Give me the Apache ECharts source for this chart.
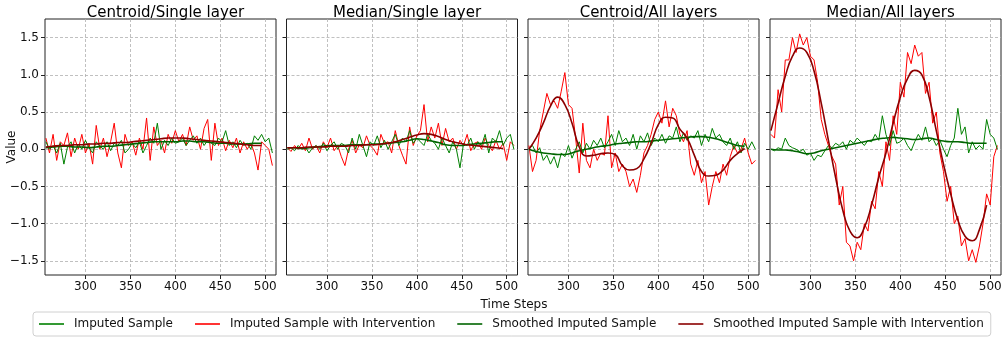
<!DOCTYPE html>
<html>
<head>
<meta charset="utf-8">
<script src="https://cdn.jsdelivr.net/npm/echarts@6/dist/echarts.min.js"></script>
<style>
    html, body { margin: 0; padding: 0; background: #fff; }
    #chart { width: 1002px; height: 339px; }
</style>
</head>
<body>
<div id="chart"></div>
<script>
    // time steps: raw samples every 4 steps, smoothed curve every 8 steps
    var noisySteps = [];
    for (var t = 256; t <= 508; t += 4) noisySteps.push(t);
    var smoothSteps = [];
    for (t = 256; t <= 496; t += 8) smoothSteps.push(t);

    var xTicks = [300, 350, 400, 450, 500];
    var yTicks = [-1.5, -1.0, -0.5, 0.0, 0.5, 1.0, 1.5];

    var panelTitles = ['Centroid/Single layer', 'Median/Single layer', 'Centroid/All layers', 'Median/All layers'];
    var legendNames = ['Imputed Sample', 'Imputed Sample with Intervention', 'Smoothed Imputed Sample', 'Smoothed Imputed Sample with Intervention'];

    // Centroid / Single layer
    var centroidSingleRaw = [
        0.1, 0.0, 0.05, -0.05, 0.08, -0.2, 0.03, 0.1,
        -0.05, 0.07, 0.0, 0.12, 0.02, -0.05, 0.1, 0.04,
        0.0, 0.1, -0.02, 0.08, 0.05, 0.12, -0.05, 0.0,
        0.08, 0.02, 0.1, -0.05, 0.05, 0.15, 0.08, 0.35,
        0.0, 0.12, 0.05, 0.15, 0.08, 0.1, 0.15, 0.05,
        0.12, 0.18, 0.08, 0.15, 0.05, 0.12, 0.08, 0.05,
        0.15, 0.1, 0.25, 0.05, 0.1, 0.02, 0.12, 0.05,
        0.08, 0.0, 0.18, 0.12, 0.2, 0.1, 0.15, -0.05
    ];
    var centroidSingleInt = [
        0.15, -0.05, 0.2, -0.15, 0.1, 0.05, 0.22, -0.1,
        0.15, 0.0, 0.2, -0.05, 0.08, -0.2, 0.32, 0.0,
        0.15, -0.1, 0.1, 0.35, -0.05, -0.25, 0.2, 0.05,
        0.1, -0.08, 0.15, 0.0, 0.42, -0.15, 0.3, 0.05,
        0.12, -0.05, 0.2, 0.08, 0.25, 0.1, 0.2, 0.05,
        0.3, 0.12, 0.18, 0.0, 0.28, 0.4, -0.15, 0.35,
        0.05, 0.15, -0.02, 0.12, 0.02, 0.15, -0.05, 0.1,
        0.0, 0.08, -0.05, -0.28, 0.1, 0.05, 0.0, -0.22
    ];
    var centroidSingleSmooth = [
        0.02, 0.03, 0.04, 0.04, 0.03, 0.03, 0.02, 0.03,
        0.04, 0.04, 0.05, 0.06, 0.07, 0.08, 0.09, 0.1,
        0.1, 0.1, 0.1, 0.11, 0.11, 0.1, 0.1, 0.09,
        0.08, 0.08, 0.07, 0.07, 0.07, 0.08, 0.08
    ];
    var centroidSingleSmoothInt = [
        0.03, 0.04, 0.05, 0.05, 0.06, 0.06, 0.07, 0.07,
        0.08, 0.08, 0.09, 0.09, 0.1, 0.11, 0.12, 0.13,
        0.14, 0.15, 0.15, 0.15, 0.14, 0.13, 0.12, 0.11,
        0.1, 0.09, 0.08, 0.07, 0.06, 0.05, 0.05
    ];

    // Median / Single layer
    var medianSingleRaw = [
        0.0, 0.02, -0.02, 0.05, 0.0, 0.03, -0.05, 0.02,
        0.05, 0.0, 0.08, -0.02, 0.05, 0.1, 0.0, 0.08,
        0.05, -0.05, 0.15, 0.0, 0.2, 0.05, -0.1, 0.1,
        0.05, 0.18, 0.02, 0.12, 0.0, 0.1, 0.2, 0.05,
        0.15, 0.1, 0.25, 0.08, 0.15, 0.1, 0.05, 0.2,
        0.12, 0.08, 0.0, 0.15, 0.05, -0.05, 0.1, 0.0,
        -0.25, 0.08, 0.05, 0.15, 0.0, 0.1, 0.05, 0.2,
        -0.05, 0.15, 0.1, 0.25, 0.05, 0.15, 0.2, 0.0
    ];
    var medianSingleInt = [
        0.02, -0.03, 0.05, 0.0, 0.08, -0.02, 0.15, 0.0,
        0.05, -0.05, 0.1, 0.02, 0.15, -0.02, 0.05, -0.1,
        -0.22, 0.0, 0.12, -0.05, 0.06, 0.02, 0.18, 0.05,
        0.0, -0.08, 0.2, 0.08, 0.1, -0.05, 0.25, 0.05,
        -0.08, -0.2, 0.3, 0.05, 0.18, 0.25, 0.6, 0.1,
        0.3, 0.15, 0.35, 0.05, 0.28, 0.1, 0.15, 0.0,
        0.12, 0.05, 0.2, -0.02, 0.08, 0.1, 0.0, 0.15,
        0.05, -0.02, 0.12, 0.0, 0.08, -0.15, 0.1, 0.05
    ];
    var medianSingleSmooth = [
        0.02, 0.02, 0.01, 0.02, 0.03, 0.04, 0.05, 0.05,
        0.05, 0.06, 0.06, 0.06, 0.07, 0.07, 0.08, 0.09,
        0.1, 0.12, 0.14, 0.13, 0.11, 0.09, 0.06, 0.05,
        0.05, 0.06, 0.07, 0.08, 0.09, 0.1, 0.1
    ];
    var medianSingleSmoothInt = [
        0.02, 0.02, 0.02, 0.03, 0.03, 0.03, 0.04, 0.04,
        0.04, 0.05, 0.05, 0.06, 0.06, 0.07, 0.08, 0.1,
        0.13, 0.16, 0.19, 0.21, 0.2, 0.17, 0.13, 0.1,
        0.08, 0.06, 0.05, 0.04, 0.03, 0.02, 0.01
    ];

    // Centroid / All layers
    var centroidAllRaw = [
        0.0, 0.05, -0.05, 0.02, -0.15, -0.08, -0.2, -0.1,
        -0.25, -0.05, -0.1, 0.05, -0.12, 0.0, 0.1, -0.05,
        0.08, 0.0, 0.12, 0.05, 0.15, 0.02, 0.1, 0.2,
        0.05, 0.25, 0.1, 0.15, 0.05, 0.2, 0.0, 0.18,
        0.1, 0.22, 0.05, 0.15, 0.1, 0.2, 0.08, 0.18,
        0.15, 0.3, 0.1, 0.22, 0.12, 0.18, 0.15, 0.25,
        0.05, 0.2, 0.1, 0.28, 0.15, 0.2, 0.1, 0.05,
        0.15, 0.0, 0.1, -0.05, 0.08, 0.0, 0.1, 0.0
    ];
    var centroidAllInt = [
        0.05, -0.3, -0.15, 0.25, 0.5, 0.75, 0.6, 0.65,
        0.55, 0.78, 1.03, 0.6, 0.55, 0.15, -0.32, 0.35,
        -0.15, -0.25, 0.0, -0.15, -0.05, -0.08, 0.45, -0.25,
        -0.05, -0.3, -0.2, -0.3, -0.5, -0.4, -0.58, -0.35,
        -0.05, 0.05, 0.2, 0.4, 0.5, 0.35, 0.65, 0.3,
        0.55, 0.45, 0.2, 0.1, 0.25, -0.2, -0.35, -0.15,
        -0.45, -0.3, -0.75, -0.5, -0.3, -0.45, -0.2, -0.35,
        -0.1, 0.05, -0.05, 0.0, 0.15, -0.05, -0.2, -0.15
    ];
    var centroidAllSmooth = [
        0.0, -0.03, -0.05, -0.06, -0.07, -0.07, -0.05, -0.02,
        0.0, 0.02, 0.04, 0.05, 0.07, 0.08, 0.09, 0.1,
        0.1, 0.11, 0.12, 0.13, 0.14, 0.15, 0.16, 0.17,
        0.17, 0.16, 0.14, 0.11, 0.08, 0.05, 0.04
    ];
    var centroidAllSmoothInt = [
        0.0, 0.15, 0.35, 0.58, 0.7, 0.6, 0.35, 0.03,
        -0.09, -0.08, -0.06, -0.05, -0.07, -0.22, -0.28, -0.26,
        -0.13, 0.08, 0.33, 0.43, 0.42, 0.27, 0.15, -0.08,
        -0.3, -0.36, -0.35, -0.28, -0.15, -0.06, 0.01
    ];

    // Median / All layers
    var medianAllRaw = [
        0.0, -0.02, 0.02, 0.0, 0.15, 0.05, 0.02, 0.0,
        -0.03, 0.0, -0.08, -0.05, -0.15, -0.08, -0.1, -0.02,
        0.05, 0.02, 0.08, 0.05, 0.1, 0.0, 0.12, 0.08,
        0.15, 0.1, 0.05, 0.12, 0.1, 0.2, 0.12, 0.45,
        0.2, 0.05, 0.25, 0.08, 0.1, 0.15, 0.05, -0.02,
        0.1, 0.2, 0.12, 0.3, 0.1, 0.15, 0.05, 0.12,
        0.0, -0.1, 0.05, 0.15, 0.55, 0.2, 0.3, -0.05,
        0.1, 0.0, 0.05, 0.0, 0.4, 0.2, 0.15, 0.0
    ];
    var medianAllInt = [
        0.2, 0.15, 0.8, 0.5, 1.2, 1.2, 1.5, 1.3,
        1.55, 1.4, 1.5, 1.25, 1.2, 0.9, 0.4, 0.2,
        0.05, -0.1, -0.2, -0.75, -0.5, -1.25, -1.3, -1.5,
        -1.25, -1.35, -1.0, -1.1, -0.7, -0.8, -0.3, -0.5,
        0.1, -0.15, 0.45, 0.2, 0.9, 0.7, 1.3, 1.15,
        1.4, 1.25, 1.3, 0.75, 0.9, 0.35, 0.5, -0.05,
        -0.3, -0.7, -0.5, -1.0, -0.9, -1.3, -1.2, -1.5,
        -1.35, -1.52, -1.3, -1.0, -0.6, -0.75, -0.1, 0.05
    ];
    var medianAllSmooth = [
        0.0, -0.01, -0.01, -0.02, -0.04, -0.06, -0.05, -0.02,
        0.0, 0.02, 0.04, 0.06, 0.08, 0.1, 0.12, 0.14,
        0.15, 0.16, 0.15, 0.14, 0.13, 0.14, 0.15, 0.13,
        0.11, 0.1, 0.1, 0.09, 0.08, 0.08, 0.08
    ];
    var medianAllSmoothInt = [
        0.25, 0.62, 0.98, 1.25, 1.36, 1.3, 1.05, 0.62,
        0.12, -0.38, -0.82, -1.1, -1.19, -1.05, -0.75, -0.38,
        -0.05, 0.35, 0.7, 0.95, 1.06, 1.0, 0.7, 0.25,
        -0.2, -0.6, -0.95, -1.17, -1.23, -1.08, -0.75
    ];

    var panels = [
        [centroidSingleRaw, centroidSingleInt, centroidSingleSmooth, centroidSingleSmoothInt],
        [medianSingleRaw, medianSingleInt, medianSingleSmooth, medianSingleSmoothInt],
        [centroidAllRaw, centroidAllInt, centroidAllSmooth, centroidAllSmoothInt],
        [medianAllRaw, medianAllInt, medianAllSmooth, medianAllSmoothInt]
    ];

    var FONT = 'DejaVu Sans';
    var gridLeft = [45, 286.5, 528, 770];
    var gridWidth = 231;
    var seriesColors = ['#008000', '#ff0000', '#006400', '#8b0000'];

    function pairs(xs, ys) {
        return ys.map(function (y, i) { return [xs[i], y]; });
    }

    function fmtY(v) {
        return (v < 0 ? '\u2212' : '') + Math.abs(v).toFixed(1);
    }

    var chart = echarts.init(document.getElementById('chart'), null, {renderer: 'canvas'});

    var grids = [], xAxes = [], yAxes = [], series = [], titles = [];

    panels.forEach(function (p, i) {
        grids.push({
            left: gridLeft[i], top: 19, width: gridWidth, height: 256,
            containLabel: false, outerBoundsMode: 'none',
            show: true, borderColor: '#222', borderWidth: 1, backgroundColor: 'transparent'
        });
        titles.push({
            text: panelTitles[i],
            left: gridLeft[i] + gridWidth / 2, top: 1, textAlign: 'center',
            textStyle: {fontFamily: FONT, fontSize: 15, fontWeight: 'normal', color: '#000'}
        });
        xAxes.push({
            type: 'value', gridIndex: i, min: 255, max: 512,
            axisLine: {show: false, onZero: false},
            axisTick: {show: true, customValues: xTicks, length: 4, lineStyle: {color: '#222'}},
            axisLabel: {customValues: xTicks, fontFamily: FONT, fontSize: 12, color: '#111', margin: 6},
            splitLine: {show: true, lineStyle: {color: '#b0b0b0', type: [3, 2], width: 0.8}}
        });
        yAxes.push({
            type: 'value', gridIndex: i, min: -1.69, max: 1.75,
            axisLine: {show: false, onZero: false},
            axisTick: {show: true, customValues: yTicks, length: 4, lineStyle: {color: '#222'}},
            axisLabel: {show: i === 0, customValues: yTicks, formatter: fmtY, fontFamily: FONT, fontSize: 12, color: '#111', margin: 6},
            splitLine: {show: true, lineStyle: {color: '#b0b0b0', type: [3, 2], width: 0.8}}
        });

        // draw order: intervention raw, raw, smoothed, smoothed intervention
        [1, 0, 2, 3].forEach(function (k) {
            var smooth = k >= 2;
            series.push({
                name: legendNames[k], type: 'line', xAxisIndex: i, yAxisIndex: i,
                data: pairs(smooth ? smoothSteps : noisySteps, p[k]),
                symbol: 'none', smooth: smooth, animation: false,
                lineStyle: {color: seriesColors[k], width: smooth ? 1.6 : 1},
                itemStyle: {color: seriesColors[k]}
            });
        });
    });

    titles.push({
        text: 'Time Steps', left: 509, top: 294, textAlign: 'center',
        textStyle: {fontFamily: FONT, fontSize: 12, fontWeight: 'normal', color: '#111'}
    });

    var option = {
        backgroundColor: '#fff',
        animation: false,
        title: titles,
        graphic: [{
            type: 'text', x: 12, y: 147, rotation: Math.PI / 2,
            style: {text: 'Value', font: '12px "DejaVu Sans"', fill: '#111', align: 'center', verticalAlign: 'middle'}
        }],
        legend: {
            data: legendNames.map(function (n, k) {
                return {name: n, icon: 'rect', itemStyle: {color: seriesColors[k]}};
            }),
            left: 33, top: 312,
            itemWidth: 25, itemHeight: 1.6, itemGap: 22,
            padding: [6, 7, 6, 6],
            borderColor: '#d0d0d0', borderWidth: 1, borderRadius: 3,
            textStyle: {fontFamily: FONT, fontSize: 12, color: '#111', padding: [0, 0, 0, 5]}
        },
        grid: grids,
        xAxis: xAxes,
        yAxis: yAxes,
        series: series
    };

    chart.setOption(option);
</script>
</body>
</html>
